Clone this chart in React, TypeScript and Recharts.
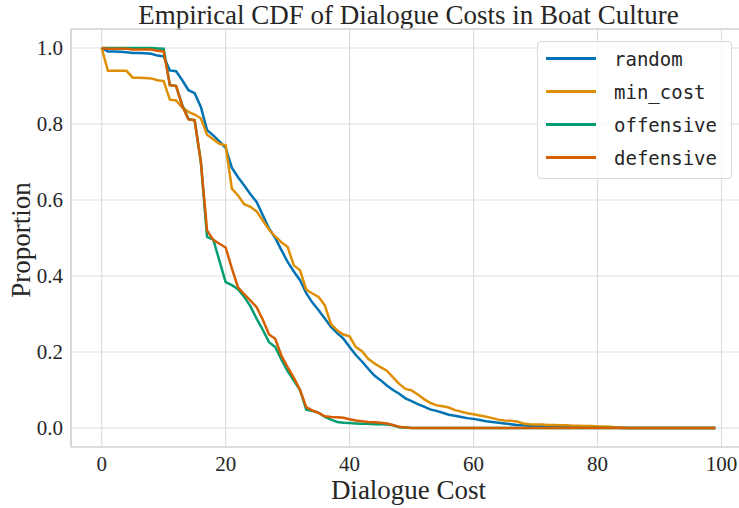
import { LineChart, Line, XAxis, YAxis, CartesianGrid, ReferenceLine } from "recharts";

// survival value at each integer cost 0..99
const random = [
  1.0, 0.991, 0.991, 0.99, 0.989, 0.987, 0.987, 0.986, 0.985, 0.98,
  0.978, 0.941, 0.939, 0.915, 0.889, 0.881, 0.845, 0.784, 0.77, 0.754,
  0.737, 0.685, 0.66, 0.638, 0.615, 0.595, 0.56, 0.525, 0.5, 0.468,
  0.437, 0.412, 0.389, 0.355, 0.33, 0.31, 0.288, 0.266, 0.25, 0.235,
  0.213, 0.192, 0.175, 0.156, 0.138, 0.126, 0.112, 0.1, 0.09, 0.078,
  0.071, 0.063, 0.056, 0.049, 0.045, 0.04, 0.035, 0.032, 0.029, 0.026,
  0.024, 0.021, 0.018, 0.016, 0.014, 0.012, 0.01, 0.008, 0.007, 0.006,
  0.005, 0.005, 0.004, 0.004, 0.003, 0.003, 0.002, 0.002, 0.002, 0.001,
  0.001, 0.001, 0.001, 0.001, 0.0, 0.0, 0.0, 0.0, 0.0, 0.0,
  0.0, 0.0, 0.0, 0.0, 0.0, 0.0, 0.0, 0.0, 0.0, 0.0,
];

const minCost = [
  1.0, 0.94, 0.94, 0.94, 0.94, 0.922, 0.922, 0.921, 0.92, 0.915,
  0.913, 0.864, 0.862, 0.843, 0.832, 0.825, 0.815, 0.772, 0.76, 0.748,
  0.744, 0.63, 0.612, 0.589, 0.582, 0.57, 0.546, 0.522, 0.504, 0.489,
  0.476, 0.428, 0.415, 0.364, 0.354, 0.345, 0.323, 0.273, 0.257, 0.246,
  0.241, 0.213, 0.202, 0.182, 0.17, 0.16, 0.151, 0.133, 0.116, 0.103,
  0.099, 0.088, 0.076, 0.066, 0.06, 0.057, 0.054, 0.047, 0.043, 0.039,
  0.036, 0.033, 0.03, 0.026, 0.022, 0.02, 0.019, 0.017, 0.012, 0.01,
  0.009, 0.009, 0.008, 0.008, 0.007, 0.007, 0.006, 0.006, 0.005, 0.005,
  0.004, 0.004, 0.003, 0.002, 0.001, 0.0, 0.0, 0.0, 0.0, 0.0,
  0.0, 0.0, 0.0, 0.0, 0.0, 0.0, 0.0, 0.0, 0.0, 0.0,
];

const offensive = [
  1.0, 1.0, 1.0, 1.0, 1.0, 1.0, 1.0, 1.0, 1.0, 0.999,
  0.998, 0.903, 0.9, 0.85, 0.813, 0.81, 0.7, 0.503, 0.496, 0.44,
  0.384, 0.376, 0.365, 0.345, 0.32, 0.288, 0.258, 0.226, 0.213, 0.18,
  0.15, 0.125, 0.1, 0.048, 0.045, 0.04, 0.029, 0.022, 0.016, 0.014,
  0.013, 0.012, 0.011, 0.011, 0.01, 0.01, 0.009, 0.007, 0.002, 0.001,
  0.0, 0.0, 0.0, 0.0, 0.0, 0.0, 0.0, 0.0, 0.0, 0.0,
  0.0, 0.0, 0.0, 0.0, 0.0, 0.0, 0.0, 0.0, 0.0, 0.0,
  0.0, 0.0, 0.0, 0.0, 0.0, 0.0, 0.0, 0.0, 0.0, 0.0,
  0.0, 0.0, 0.0, 0.0, 0.0, 0.0, 0.0, 0.0, 0.0, 0.0,
  0.0, 0.0, 0.0, 0.0, 0.0, 0.0, 0.0, 0.0, 0.0, 0.0,
];

const defensive = [
  1.0, 0.998, 0.998, 0.998, 0.998, 0.996, 0.996, 0.996, 0.996, 0.993,
  0.991, 0.902, 0.9, 0.848, 0.812, 0.81, 0.7, 0.52, 0.495, 0.485,
  0.475, 0.42, 0.37, 0.352, 0.335, 0.318, 0.285, 0.246, 0.235, 0.19,
  0.16, 0.132, 0.1, 0.055, 0.046, 0.04, 0.031, 0.029, 0.028, 0.027,
  0.023, 0.02, 0.018, 0.016, 0.015, 0.014, 0.012, 0.008, 0.003, 0.001,
  0.0, 0.0, 0.0, 0.0, 0.0, 0.0, 0.0, 0.0, 0.0, 0.0,
  0.0, 0.0, 0.0, 0.0, 0.0, 0.0, 0.0, 0.0, 0.0, 0.0,
  0.0, 0.0, 0.0, 0.0, 0.0, 0.0, 0.0, 0.0, 0.0, 0.0,
  0.0, 0.0, 0.0, 0.0, 0.0, 0.0, 0.0, 0.0, 0.0, 0.0,
  0.0, 0.0, 0.0, 0.0, 0.0, 0.0, 0.0, 0.0, 0.0, 0.0,
];

const xTicks = [0, 20, 40, 60, 80, 100];
const yTicks = [0, 0.2, 0.4, 0.6, 0.8, 1.0];

const series = [
  { key: "random", color: "#0173b2" },
  { key: "min_cost", color: "#de8f05" },
  { key: "offensive", color: "#029e73" },
  { key: "defensive", color: "#d55e00" },
];

const data = random.map((v, i) => ({
  cost: i,
  random: v,
  min_cost: minCost[i],
  offensive: offensive[i],
  defensive: defensive[i],
}));

const SERIF = "'Liberation Serif', 'DejaVu Serif', serif";
const TEXT = "#262626";

function LegendBox() {
  return (
    <div style={{
      position: "absolute", left: 537, top: 41,
      background: "rgba(255,255,255,0.8)", border: "1px solid #d9d9d9", borderRadius: 4,
      width: 195, height: 138, boxSizing: "border-box", padding: "0 0 0 8px",
    }}>
      {series.map((s) => (
        <div key={s.key} style={{ display: "flex", alignItems: "center", height: 33 }}>
          <div style={{ width: 50, height: 2.5, background: s.color }} />
          <span style={{
            marginLeft: 18, fontFamily: "'DejaVu Sans Mono', monospace", fontSize: 19, color: TEXT,
          }}>{s.key}</span>
        </div>
      ))}
    </div>
  );
}

export default function App() {
  return (
    <div style={{ position: "absolute", left: 0, top: 0, width: 739, height: 508, background: "#fff", overflow: "hidden" }}>
      <div style={{
        position: "absolute", left: 71, width: 675, top: 0, textAlign: "center",
        fontFamily: SERIF, fontSize: 27, color: TEXT, lineHeight: "30px",
      }}>Empirical CDF of Dialogue Costs in Boat Culture</div>

      <LineChart width={746} height={508} data={data} margin={{ top: 29, right: 0, bottom: 0, left: 0 }}>
        <CartesianGrid stroke="#dddddd" strokeWidth={1.2} />
        <XAxis
          dataKey="cost" type="number" domain={[-4.95, 103.95]} ticks={xTicks}
          allowDataOverflow height={61} tickLine={false} tickSize={0} tickMargin={9}
          axisLine={{ stroke: "#cccccc", strokeWidth: 1.2 }}
          tick={{ fontFamily: SERIF, fontSize: 21, fill: TEXT }}
        />
        <YAxis
          type="number" domain={[-0.05, 1.05]} ticks={yTicks} allowDataOverflow
          width={71} tickLine={false} tickSize={0} tickMargin={8}
          axisLine={{ stroke: "#cccccc", strokeWidth: 1.2 }}
          tickFormatter={(v: number) => v.toFixed(1)}
          tick={{ fontFamily: SERIF, fontSize: 21, fill: TEXT }}
        />
        <ReferenceLine y={1.05} stroke="#cccccc" strokeWidth={1.2} />
        {series.map((s) => (
          <Line
            key={s.key} dataKey={s.key} type="linear" stroke={s.color} strokeWidth={2.5}
            dot={false} isAnimationActive={false}
          />
        ))}
      </LineChart>

      <LegendBox />

      <div style={{
        position: "absolute", left: 71, width: 675, top: 475, textAlign: "center",
        fontFamily: SERIF, fontSize: 27, color: TEXT, lineHeight: "30px",
      }}>Dialogue Cost</div>
      <div style={{
        position: "absolute", left: 21, top: 240, transform: "translate(-50%, -50%) rotate(-90deg)",
        fontFamily: SERIF, fontSize: 27, color: TEXT, lineHeight: "30px", whiteSpace: "nowrap",
      }}>Proportion</div>
    </div>
  );
}
